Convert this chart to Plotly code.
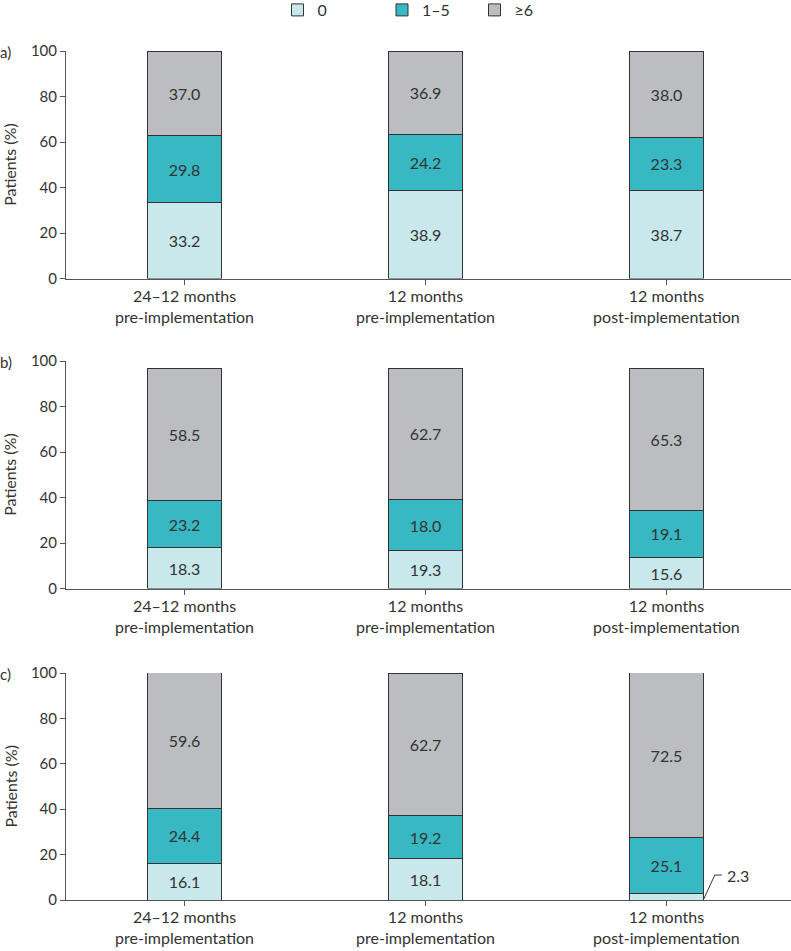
import plotly.graph_objects as go

W, H = 791, 951

categories = ["24–12 months<br>pre-implementation",
              "12 months<br>pre-implementation",
              "12 months<br>post-implementation"]
series_names = ["0", "1–5", "≥6"]
colors = ["#c8e8ec", "#38b8c2", "#bcbdc0"]
panel_letters = ["a)", "b)", "c)"]

# printed values (labels) per panel: [series][category]
labels_a = [[33.2, 38.9, 38.7], [29.8, 24.2, 23.3], [37.0, 36.9, 38.0]]
labels_b = [[18.3, 19.3, 15.6], [23.2, 18.0, 19.1], [58.5, 62.7, 65.3]]
labels_c = [[16.1, 18.1, 2.3], [24.4, 19.2, 25.1], [59.6, 62.7, 72.5]]

# segment heights as drawn in the picture
heights_a = [[33.2, 38.9, 38.7], [29.8, 24.2, 23.3], [37.0, 36.9, 38.0]]
heights_b = [[18.0, 16.5, 13.6], [20.7, 22.8, 20.8], [58.1, 57.5, 62.4]]
heights_c = [[16.1, 18.1, 3.0], [24.4, 19.2, 24.6], [59.6, 62.7, 72.5]]

# label shown outside the bar (panel c, last bar, series "0")
outside_label = {"panel": 2, "series": 0, "cat": 2}

y_ticks = [0, 20, 40, 60, 80, 100]

FONT = "Lato"
TXT = "#333333"
AX = "#555555"
BAR_W = 0.31

panels = [(heights_a, labels_a), (heights_b, labels_b), (heights_c, labels_c)]
# panel pixel extents (top of 100, bottom at 0)
panel_px = [(51, 278.5), (361, 588.5), (673, 900)]
x_left = 66 / W
legend_ids = ["legend", "legend2", "legend3"]
legend_x_px = [277.5, 382, 474.5]

fig = go.Figure()
for p, (hts, lbls) in enumerate(panels):
    xa = "x" if p == 0 else f"x{p+1}"
    ya = "y" if p == 0 else f"y{p+1}"
    for s in range(3):
        texts = []
        for c in range(3):
            if p == outside_label["panel"] and s == outside_label["series"] and c == outside_label["cat"]:
                texts.append("")
            else:
                texts.append(f"{lbls[s][c]:.1f}")
        fig.add_trace(go.Bar(
            x=list(range(3)), y=hts[s], xaxis=xa, yaxis=ya,
            name=series_names[s], showlegend=(p == 0), legend=legend_ids[s],
            marker=dict(color=colors[s], line=dict(color="#333333", width=1)),
            width=BAR_W, text=texts, textposition="inside",
            insidetextanchor="middle", textangle=0,
            textfont=dict(family=FONT, size=16, color=TXT),
            hoverinfo="skip",
        ))

layout = dict(
    width=W, height=H, barmode="stack",
    margin=dict(l=0, r=0, t=0, b=0, autoexpand=False),
    plot_bgcolor="white", paper_bgcolor="white",
    font=dict(family=FONT, size=15, color=TXT),
    uniformtext=dict(minsize=16, mode="show"),
)
for s in range(3):
    layout[legend_ids[s]] = dict(
        orientation="h", xref="container", yref="container",
        x=legend_x_px[s] / W, xanchor="left", y=1 - 10 / H, yanchor="middle",
        font=dict(family=FONT, size=16, color=TXT), bgcolor="rgba(0,0,0,0)")

annotations = []
for p in range(3):
    top_px, bot_px = panel_px[p]
    sfx = "" if p == 0 else str(p + 1)
    layout[f"xaxis{sfx}"] = dict(
        domain=[x_left, 1], range=[-0.492, 2.517], anchor=f"y{sfx}",
        tickmode="array", tickvals=list(range(3)), ticktext=categories,
        showline=True, linecolor=AX, linewidth=1, ticks="outside", ticklen=5,
        tickcolor=AX, showgrid=False, zeroline=False, automargin=False,
        ticklabelstandoff=-2,
        tickfont=dict(family=FONT, size=16, color=TXT),
    )
    layout[f"yaxis{sfx}"] = dict(
        domain=[1 - bot_px / H, 1 - top_px / H], range=[0, 100], anchor=f"x{sfx}",
        tickmode="array", tickvals=y_ticks,
        showline=True, linecolor=AX, linewidth=1, ticks="outside", ticklen=5,
        tickcolor=AX, showgrid=False, zeroline=False, automargin=False,
        tickfont=dict(family=FONT, size=15, color=TXT),
    )
    annotations.append(dict(text="Patients (%)", textangle=-90, xref="paper", yref="paper",
                            x=10 / W, xanchor="center", y=1 - (top_px + bot_px) / 2 / H,
                            yanchor="middle", showarrow=False,
                            font=dict(family=FONT, size=16, color=TXT)))
    annotations.append(dict(text=panel_letters[p], xref="paper", yref="paper",
                            x=-2 / W, xanchor="left", y=1 - (top_px + 1) / H, yanchor="middle",
                            showarrow=False,
                            font=dict(family=FONT, size=15, color=TXT)))

# outside label with leader line (panel c, last bar)
op = outside_label
hts_c = panels[op["panel"]][0]
x_edge = op["cat"] + BAR_W / 2
seg_h = hts_c[op["series"]][op["cat"]]
unit = 240.7
fig.add_shape(type="path", xref="x3", yref="y3",
              path=f"M {x_edge},{seg_h*0.15} L {x_edge + 11/unit},{11} L {x_edge + 18/unit},{11}",
              line=dict(color="#333333", width=1))
annotations.append(dict(text=f"{panels[op['panel']][1][op['series']][op['cat']]:.1f}",
                        xref="x3", yref="y3", x=x_edge + 21 / unit, y=11,
                        xanchor="left", yanchor="middle", showarrow=False,
                        font=dict(family=FONT, size=16, color=TXT)))
layout["annotations"] = annotations
fig.update_layout(**layout)
fig.write_html("out.html", config={"displayModeBar": False},
               post_script="document.body.style.margin='0';")
